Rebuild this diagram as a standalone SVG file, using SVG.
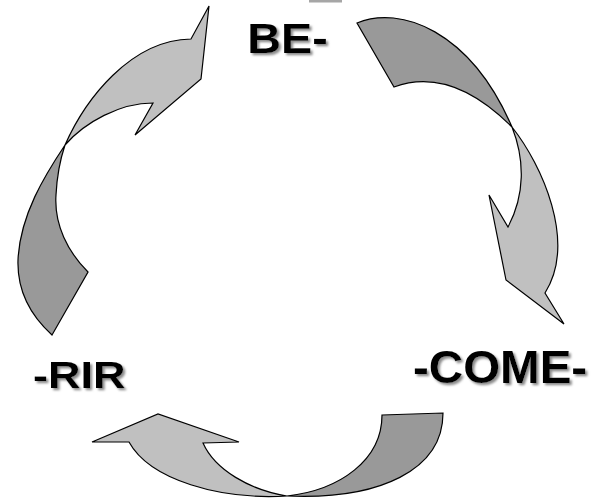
<svg xmlns="http://www.w3.org/2000/svg" width="594" height="500" viewBox="0 0 594 500">
<style>
.light{fill:#c0c0c0;stroke:#000;stroke-width:1.2;stroke-linejoin:miter}
.dark{fill:#999999;stroke:#000;stroke-width:1.2;stroke-linejoin:miter}
.lbl{font-family:"Liberation Sans",Arial,sans-serif;font-weight:bold;fill:#000}
</style>
<defs>
<filter id="sh" x="-10%" y="-20%" width="130%" height="150%">
<feDropShadow dx="2.2" dy="2.2" stdDeviation="0.8" flood-color="#8c8c8c" flood-opacity="1"/>
</filter>
</defs>
<rect width="594" height="500" fill="#fff"/>
<rect x="309" y="0" width="33" height="2.5" fill="#a6a6a6"/>
<g id="connectors">
<g id="arrow-left">
<path class="dark" d="M52,335 L88,272 C68,252 54,225 56,195 C57,175 60,160 65,145 C45,175 20,215 18,260 C17,290 30,315 52,335 Z"/>
<path class="light" d="M65,145 C85,100 130,40 191,39 L209,6 L201,79 L135,135 L153,103 C120,103 85,122 65,145 Z"/>
</g>
<g id="arrow-right">
<path class="dark" d="M357,23 C400,5 470,30 512,127 C480,95 440,70 394,87 Z"/>
<path class="light" d="M512,127 C542,165 577,242 545,293 L564,324 L506,280 L489,195 L508,227 C525,195 525,160 512,127 Z"/>
</g>
<g id="arrow-bottom">
<path class="dark" d="M382,415 L443,413 C443,470 380,500 287,496 C340,490 382,460 382,415 Z"/>
<path class="light" d="M287,496 C220,500 150,480 129,442 L92,442 L158,414 L239,442 L203,443 C215,470 250,490 287,496 Z"/>
</g>
</g>
<g id="node-be" filter="url(#sh)">
<text class="lbl" x="247.3" y="53" font-size="43" textLength="80.4" lengthAdjust="spacingAndGlyphs">BE-</text>
</g>
<g id="node-come" filter="url(#sh)">
<text class="lbl" x="413" y="383" font-size="46" textLength="174.2" lengthAdjust="spacingAndGlyphs">-COME-</text>
</g>
<g id="node-rir" filter="url(#sh)">
<text class="lbl" x="33" y="388" font-size="36" textLength="92.5" lengthAdjust="spacingAndGlyphs">-RIR</text>
</g>
</svg>
